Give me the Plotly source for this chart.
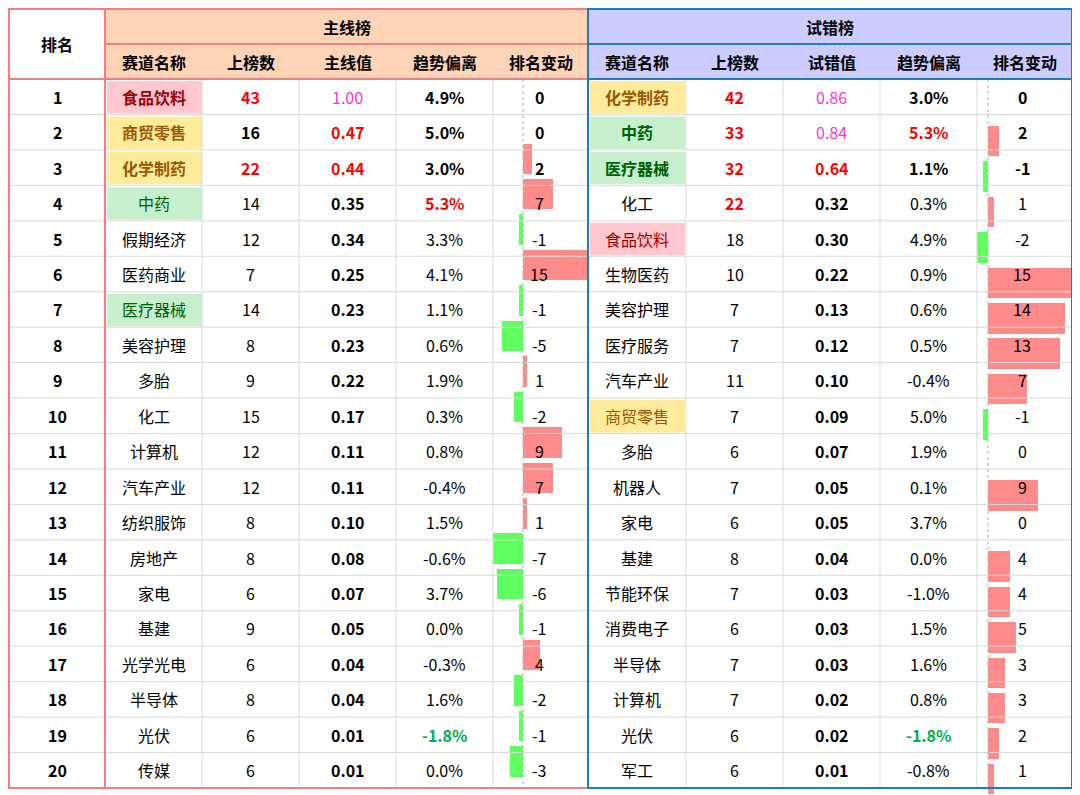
import plotly.graph_objects as go

# === Data ===
ranks = list(range(1, 21))

main_names = ["食品饮料", "商贸零售", "化学制药", "中药", "假期经济", "医药商业", "医疗器械", "美容护理", "多胎", "化工",
              "计算机", "汽车产业", "纺织服饰", "房地产", "家电", "基建", "光学光电", "半导体", "光伏", "传媒"]
main_counts = [43, 16, 22, 14, 12, 7, 14, 8, 9, 15, 12, 12, 8, 8, 6, 9, 6, 8, 6, 6]
main_values = [1.00, 0.47, 0.44, 0.35, 0.34, 0.25, 0.23, 0.23, 0.22, 0.17,
               0.11, 0.11, 0.10, 0.08, 0.07, 0.05, 0.04, 0.04, 0.01, 0.01]
main_trend = [4.9, 5.0, 3.0, 5.3, 3.3, 4.1, 1.1, 0.6, 1.9, 0.3, 0.8, -0.4, 1.5, -0.6, 3.7, 0.0, -0.3, 1.6, -1.8, 0.0]
main_change = [0, 0, 2, 7, -1, 15, -1, -5, 1, -2, 9, 7, 1, -7, -6, -1, 4, -2, -1, -3]

trial_names = ["化学制药", "中药", "医疗器械", "化工", "食品饮料", "生物医药", "美容护理", "医疗服务", "汽车产业", "商贸零售",
               "多胎", "机器人", "家电", "基建", "节能环保", "消费电子", "半导体", "计算机", "光伏", "军工"]
trial_counts = [42, 33, 32, 22, 18, 10, 7, 7, 11, 7, 6, 7, 6, 8, 7, 6, 7, 7, 6, 6]
trial_values = [0.86, 0.84, 0.64, 0.32, 0.30, 0.22, 0.13, 0.12, 0.10, 0.09,
                0.07, 0.05, 0.05, 0.04, 0.03, 0.03, 0.03, 0.02, 0.02, 0.01]
trial_trend = [3.0, 5.3, 1.1, 0.3, 4.9, 0.9, 0.6, 0.5, -0.4, 5.0, 1.9, 0.1, 3.7, 0.0, -1.0, 1.5, 1.6, 0.8, -1.8, -0.8]
trial_change = [0, 2, -1, 1, -2, 15, 14, 13, 7, -1, 0, 9, 0, 4, 4, 5, 3, 3, 2, 1]

headers = ["赛道名称", "上榜数", "主线值", "趋势偏离", "排名变动"]
headers_r = ["赛道名称", "上榜数", "试错值", "趋势偏离", "排名变动"]

# name highlight: (background, text colour)
highlight = {
    "食品饮料": ("#ffc7ce", "#9c0006"),
    "商贸零售": ("#ffeb9c", "#9c5700"),
    "化学制药": ("#ffeb9c", "#9c5700"),
    "中药": ("#c6efce", "#006100"),
    "医疗器械": ("#c6efce", "#006100"),
}

# === Layout geometry ===
FONT = "Noto Sans CJK SC, Microsoft YaHei, sans-serif"
cols = [8, 104, 201, 298, 395, 492, 587, 685, 782, 879, 976, 1071]
top, h1, h2, bottom = 8, 43, 78, 787
rh = (bottom - h2) / 20
zero_l, zero_r = 522, 987
scale_l, scale_r = 4.3, 5.5

fig = go.Figure()
shapes = []
ann = []


def rect(x0, y0, x1, y1, fill, line=None, w=0):
    shapes.append(dict(type="rect", x0=x0, y0=y0, x1=x1, y1=y1, fillcolor=fill,
                       line=dict(color=line or fill, width=w), layer="below"))


def text(x, y, s, color="#000", bold=False, size=16):
    ann.append(dict(x=x, y=y, text=f"<b>{s}</b>" if bold else s, showarrow=False,
                    font=dict(family=FONT, size=size, color=color), xanchor="center", yanchor="middle"))


# header backgrounds
rect(cols[1], top, cols[6], h2, "#ffd3b6")
rect(cols[6], top, cols[11], h2, "#ccccff")

# grid lines
for i in range(21):
    y = h2 + i * rh
    shapes.append(dict(type="line", x0=cols[0], x1=cols[11], y0=y, y1=y, line=dict(color="#d9d9d9", width=1)))
for c in cols[1:11]:
    shapes.append(dict(type="line", x0=c, x1=c, y0=h2, y1=bottom, line=dict(color="#d9d9d9", width=1)))

# name cell highlights
for names, c0 in [(main_names, cols[1]), (trial_names, cols[6])]:
    for i, n in enumerate(names):
        if n in highlight:
            rect(c0 + 2, h2 + i * rh + 2, c0 + 97, h2 + (i + 1) * rh - 1, highlight[n][0])

# zero dashed lines
for z in (zero_l, zero_r):
    shapes.append(dict(type="line", x0=z, x1=z, y0=h2, y1=bottom, line=dict(color="#b0b0b0", width=1, dash="dot")))

# data bars
ycent = [h2 + (i + 0.5) * rh for i in range(20)]
for vals, zero, sc in [(main_change, zero_l, scale_l), (trial_change, zero_r, scale_r)]:
    fig.add_trace(go.Bar(
        y=ycent, x=[v * sc for v in vals], base=zero, orientation="h", width=rh * 0.86,
        marker=dict(color=["#ff8a8a" if v > 0 else "#5eff5e" for v in vals], line=dict(width=0)),
        hoverinfo="skip", showlegend=False))

# borders
shapes.append(dict(type="line", x0=cols[1], x1=cols[6], y0=h1, y1=h1, line=dict(color="#f08080", width=2)))
shapes.append(dict(type="line", x0=cols[6], x1=cols[11], y0=h1, y1=h1, line=dict(color="#1f78c8", width=2)))
shapes.append(dict(type="line", x0=cols[0], x1=cols[6], y0=h2, y1=h2, line=dict(color="#f08080", width=2)))
shapes.append(dict(type="line", x0=cols[6], x1=cols[11], y0=h2, y1=h2, line=dict(color="#1f78c8", width=2)))
shapes.append(dict(type="line", x0=cols[1], x1=cols[1], y0=top, y1=bottom, line=dict(color="#f08080", width=2)))
shapes.append(dict(type="rect", x0=cols[0], x1=cols[6], y0=top, y1=bottom, line=dict(color="#f08080", width=2)))
shapes.append(dict(type="rect", x0=cols[6], x1=cols[11], y0=top, y1=bottom, line=dict(color="#1f78c8", width=2)))

# header text
text((cols[0] + cols[1]) / 2, (top + h2) / 2, "排名", bold=True)
text((cols[1] + cols[6]) / 2, (top + h1) / 2, "主线榜", bold=True)
text((cols[6] + cols[11]) / 2, (top + h1) / 2, "试错榜", bold=True)
for j in range(5):
    text((cols[1 + j] + cols[2 + j]) / 2, (h1 + h2) / 2, headers[j], bold=True)
    text((cols[6 + j] + cols[7 + j]) / 2, (h1 + h2) / 2, headers_r[j], bold=True)


def draw_side(c, names, counts, values, trend, change, label_x):
    for i in range(20):
        y = ycent[i]
        top3 = i < 3
        n = names[i]
        text((c[0] + c[1]) / 2, y, n, highlight.get(n, (None, "#000"))[1], bold=top3)
        text((c[1] + c[2]) / 2, y, str(counts[i]), "#ff0000" if counts[i] >= 20 else "#000",
             bold=top3 or counts[i] >= 20)
        magenta = values[i] >= 0.8
        vcol = "#ff33cc" if magenta else ("#ff0000" if values[i] >= 0.4 else "#000")
        text((c[2] + c[3]) / 2, y, f"{values[i]:.2f}", vcol, bold=not magenta)
        t = trend[i]
        tcol = "#ff0000" if t >= 5.3 else ("#00b050" if t <= -1.8 else "#000")
        text((c[3] + c[4]) / 2, y, f"{t:.1f}%", tcol, bold=top3 or tcol != "#000")
        text(label_x, y, str(change[i]), bold=top3)


draw_side(cols[1:6], main_names, main_counts, main_values, main_trend, main_change, 538)
draw_side(cols[6:11], trial_names, trial_counts, trial_values, trial_trend, trial_change, 1021)

for i in range(20):
    text((cols[0] + cols[1]) / 2, ycent[i], str(ranks[i]), bold=True)

# page body adds ~7px offset, compensate in ranges
fig.update_layout(
    width=1080, height=795, margin=dict(l=0, r=0, t=0, b=0),
    plot_bgcolor="white", paper_bgcolor="white",
    xaxis=dict(range=[7, 1087], visible=False, fixedrange=True),
    yaxis=dict(range=[802, 7], visible=False, fixedrange=True),
    shapes=shapes, annotations=ann, bargap=0,
)

fig.write_html("out.html")
